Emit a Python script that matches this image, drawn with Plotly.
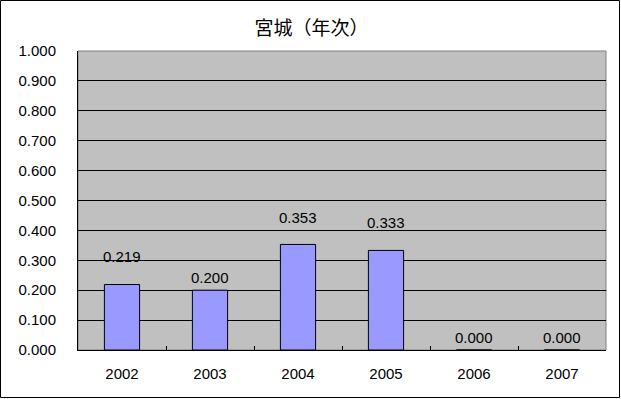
import plotly.graph_objects as go

years = ["2002", "2003", "2004", "2005", "2006", "2007"]
values = [0.219, 0.200, 0.353, 0.333, 0.000, 0.000]
label_shift = [28, 13, 27, 28, 13, 13]
y_ticks = [i / 10 for i in range(11)]
y_tick_text = [f"{v:.3f}" for v in y_ticks]
title = "宮城（年次）"

W, H = 621, 399
L, R, T, B = 78, 15, 51, 49
FONT = "Liberation Sans, Arial, sans-serif"

fig = go.Figure()
fig.add_trace(go.Bar(
    x=years, y=values,
    marker=dict(color="#9999FF", line=dict(color="black", width=1)),
    width=0.4,
))

# category axis: annotation x given as category index
for i, (v, s) in enumerate(zip(values, label_shift)):
    fig.add_annotation(x=i, y=v, text=f"{v:.3f}", showarrow=False,
                       yshift=s, font=dict(family=FONT, size=15, color="black"))

pw, ph = W - L - R, H - T - B
fig.add_shape(type="rect", xref="paper", yref="paper",
              x0=-(L - 0.5) / pw, x1=1 + (R - 1.5) / pw,
              y0=-(B - 1.5) / ph, y1=1 + (T - 0.5) / ph,
              line=dict(color="black", width=1), layer="below")
fig.add_shape(type="rect", xref="paper", yref="paper", x0=0, x1=1, y0=0, y1=1,
              line=dict(color="#808080", width=1), layer="below")

fig.update_layout(
    width=W, height=H,
    margin=dict(l=L, r=R, t=T, b=B),
    paper_bgcolor="white", plot_bgcolor="#C0C0C0",
    showlegend=False,
    title=dict(text=title, x=311.5 / W, xref="container", xanchor="center",
               y=1 - 28 / H, yref="container", yanchor="middle",
               font=dict(family="Noto Sans CJK JP", size=19, color="black")),
)
fig.update_xaxes(
    type="category", range=[-0.5, len(years) - 0.5], showgrid=False,
    showline=True, linecolor="black", linewidth=1, automargin=False,
    ticks="inside", tickson="boundaries", ticklen=4, tickcolor="black",
    tickfont=dict(family=FONT, size=15, color="black"),
    ticklabelstandoff=10, tickangle=0,
)
fig.update_yaxes(
    range=[0, 1], tickvals=y_ticks, ticktext=y_tick_text,
    showgrid=True, gridcolor="black", gridwidth=1, automargin=False,
    showline=True, linecolor="black", linewidth=1, zeroline=False,
    ticks="", tickfont=dict(family=FONT, size=15, color="black"),
    ticklabelstandoff=18,
)

fig.write_html(
    "out.html",
    config={"displayModeBar": False},
    post_script="document.body.style.margin='0';document.body.style.padding='0';",
)
